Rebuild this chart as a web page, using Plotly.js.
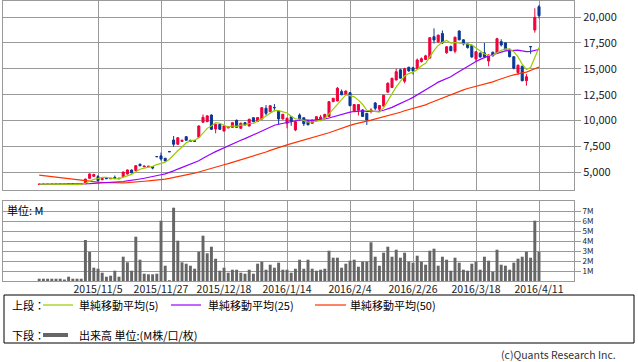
<!DOCTYPE html>
<html>
<head>
<meta charset="utf-8">
<script src="https://cdn.plot.ly/plotly-3.0.1.min.js"></script>
<style>html,body{margin:0;padding:0;background:#fff;}#chart{width:638px;height:362px;}</style>
</head>
<body>
<div id="chart"></div>
<script>
const dates = [
"2015/10/15","2015/10/16","2015/10/19","2015/10/20","2015/10/21","2015/10/22","2015/10/23","2015/10/26","2015/10/27","2015/10/28","2015/10/29",
"2015/10/30","2015/11/2","2015/11/4","2015/11/5","2015/11/6","2015/11/9","2015/11/10","2015/11/11","2015/11/12",
"2015/11/13","2015/11/16","2015/11/17","2015/11/18","2015/11/19","2015/11/20","2015/11/24","2015/11/25","2015/11/26","2015/11/27",
"2015/11/30","2015/12/1","2015/12/2","2015/12/3","2015/12/4","2015/12/7","2015/12/8","2015/12/9","2015/12/10","2015/12/11",
"2015/12/14","2015/12/15","2015/12/16","2015/12/17","2015/12/18","2015/12/21","2015/12/22","2015/12/24","2015/12/25","2015/12/28",
"2015/12/29","2015/12/30","2016/1/4","2016/1/5","2016/1/6","2016/1/7","2016/1/8","2016/1/12","2016/1/13","2016/1/14",
"2016/1/15","2016/1/18","2016/1/19","2016/1/20","2016/1/21","2016/1/22","2016/1/25","2016/1/26","2016/1/27","2016/1/28",
"2016/1/29","2016/2/1","2016/2/2","2016/2/3","2016/2/4","2016/2/5","2016/2/8","2016/2/9","2016/2/10","2016/2/12",
"2016/2/15","2016/2/16","2016/2/17","2016/2/18","2016/2/19","2016/2/22","2016/2/23","2016/2/24","2016/2/25","2016/2/26",
"2016/2/29","2016/3/1","2016/3/2","2016/3/3","2016/3/4","2016/3/7","2016/3/8","2016/3/9","2016/3/10","2016/3/11",
"2016/3/14","2016/3/15","2016/3/16","2016/3/17","2016/3/18","2016/3/22","2016/3/23","2016/3/24","2016/3/25","2016/3/28",
"2016/3/29","2016/3/30","2016/3/31","2016/4/1","2016/4/4","2016/4/5","2016/4/6","2016/4/7","2016/4/8","2016/4/11"];

const openP = [3840,3870,3860,3850,3860,3850,3860,3840,3890,3870,3830,
 3900,4430,4620,4600,4300,4440,4380,4520,4440,
 4580,4850,5230,5170,5790,5550,5560,5560,6530,6600,
 6370,7010,8130,7720,8000,8450,8100,8060,8390,9840,
 9900,10540,9190,9640,9000,9300,9350,10030,9260,9800,
 9480,10280,9920,10160,11190,10860,11260,10920,10160,9750,
 10380,9100,10540,10280,9990,9740,9990,10000,10280,10400,
 11830,11900,12800,12530,12700,10900,11000,11030,10700,10880,
 11700,11100,11400,12750,13200,13920,14900,13800,15150,15100,
 15000,15700,15900,16050,18100,17600,18400,16550,17150,16700,
 18650,17800,17400,17250,15950,16500,16550,15750,16600,16500,
 17620,17500,16880,16170,14650,15250,13850,17150,18750,20990];

const highP = [3880,3880,3870,3880,3870,3870,3870,3900,3900,3880,3850,
 4400,4900,4880,4750,4460,4480,4460,4700,4480,
 5080,5280,5280,5700,5850,5650,5620,5600,6550,6920,
 6400,7020,8520,8400,8150,8500,8150,8120,9550,10600,
 10520,10600,9700,9700,9520,9480,9850,10100,9800,9850,
 10180,10320,10350,11300,11500,11500,11600,11000,10650,10300,
 10450,9960,10700,10300,10050,10100,10420,10550,10650,11880,
 12200,13250,13000,12900,12750,11600,11600,11100,10750,11200,
 11800,11500,12500,13700,14150,15000,15000,15100,15200,15200,
 16000,16100,16350,18050,18900,18300,18700,17200,17250,18100,
 18700,17850,17450,17350,16700,16600,17500,16400,16650,18000,
 17850,17550,16950,16200,15400,15300,14500,17200,20840,21160];

const lowP = [3830,3840,3840,3840,3840,3840,3830,3830,3860,3820,3820,
 3880,4400,4560,4100,4250,4380,4370,4380,4380,
 4550,4800,4920,5150,5600,5500,5500,5300,6500,6140,
 6080,6980,7480,7650,7950,8050,7980,7980,8350,9800,
 9850,9100,8780,9100,8950,9250,9300,9300,9220,9550,
 9450,9850,9850,10100,10500,10800,10900,9610,10100,9260,
 9500,8980,10000,9480,9550,9700,9950,9950,10250,10380,
 11800,11850,12450,12500,11400,10850,10500,10350,9580,10700,
 11000,10850,11350,12700,13150,13900,14050,13600,14700,14450,
 14950,15600,15850,15950,17450,17500,17400,16450,16700,16500,
 17750,17250,16950,16050,15700,16050,16100,15250,16200,16450,
 17150,16800,16100,14950,14400,13800,13370,16450,18490,19870];

const closeP = [3870,3850,3850,3860,3850,3860,3840,3890,3870,3830,3840,
 4360,4850,4800,4220,4400,4400,4430,4420,4400,
 5040,5240,4960,5650,5650,5610,5600,5420,6520,6300,
 6110,7000,7720,8350,8100,8100,8000,8010,9480,10320,
 10460,9160,9640,9160,9480,9420,9800,9350,9750,9580,
 10130,9900,10300,11250,10700,11440,11250,10160,10610,10220,
 9900,9900,10160,9700,9600,10060,10380,10350,10610,11830,
 12150,13120,12500,12860,11440,11550,11550,10400,10060,11030,
 11190,11450,12450,13600,14080,14720,14100,15000,14800,14800,
 15850,15980,16250,18000,17780,18250,17500,17130,16750,18050,
 17800,17400,17050,16150,16650,16150,16150,16330,16250,17900,
 17300,16850,16170,15050,15350,13850,14240,17130,19970,20130];

const ma5 = [3860,3855,3855,3858,3856,3854,3852,3860,3862,3858,3854,
 3958,4150,4336,4414,4526,4534,4450,4374,4410,
 4538,4706,4812,5058,5308,5422,5494,5586,5760,5890,
 5990,6270,6730,7096,7456,7854,8054,8112,8338,8782,
 9254,9486,9812,9748,9580,9372,9500,9442,9560,9580,
 9722,9742,9932,10232,10456,10718,10988,10960,10832,10736,
 10428,10158,10158,9976,9852,9884,9980,10018,10200,10646,
 11064,11612,12042,12492,12414,12294,11980,11560,11000,10918,
 10846,10826,11236,11944,12554,13260,13790,14300,14540,14684,
 14910,15286,15536,16176,16772,17252,17556,17732,17482,17536,
 17446,17426,17410,17290,17010,16680,16430,16286,16306,16556,
 16786,16926,16894,16654,16144,15444,14926,15118,16102,17058];

const ma25 = [3851,3851,3851,3851,3851,3852,3851,3853,3854,3853,3852,
 3873,3913,3951,3966,3988,4010,4033,4056,4078,
 4125,4181,4225,4297,4369,4439,4509,4572,4678,4776,
 4866,4992,5146,5325,5496,5666,5812,5938,6125,6369,
 6612,6802,7010,7200,7403,7578,7761,7936,8100,8258,
 8438,8610,8806,8995,9171,9384,9554,9652,9742,9827,
 9899,9975,10061,10070,10041,10025,10074,10102,10160,10254,
 10363,10496,10622,10746,10821,10878,10944,10948,10900,10913,
 10903,10911,11003,11122,11277,11470,11638,11831,12035,12243,
 12475,12699,12935,13230,13468,13712,13888,14073,14228,14493,
 14743,14977,15243,15486,15711,15910,16098,16253,16359,16512,
 16615,16725,16772,16782,16804,16724,16654,16689,16768,16862];

const ma50 = [4750,4700,4640,4600,4520,4470,4420,4360,4300,4260,4230,
 4180,4140,4100,4070,4050,4030,4020,4010,4000,
 4000,4010,4030,4070,4110,4150,4180,4210,4265,4314,
 4359,4422,4499,4589,4674,4759,4842,4925,5038,5167,
 5299,5405,5521,5627,5740,5851,5970,6080,6198,6313,
 6438,6559,6688,6836,6973,7125,7273,7398,7533,7661,
 7782,7893,7999,8097,8205,8318,8438,8556,8680,8829,
 8971,9129,9280,9424,9540,9659,9778,9878,9949,10044,
 10146,10235,10330,10435,10555,10687,10809,10949,11055,11145,
 11253,11389,11521,11698,11864,12041,12195,12351,12491,12660,
 12813,12963,13098,13196,13315,13409,13507,13630,13743,13897,
 14045,14184,14304,14411,14526,14602,14679,14815,15002,15168];

// volume in millions
const volumeM = [0.23,0.23,0.23,0.23,0.23,0.23,0.15,0.43,0.23,0.23,0.23,
 4.1,2.9,1.33,1.23,0.83,0.43,0.53,1.03,0.43,
 2.43,1.87,1.03,4.43,2.13,0.73,0.67,0.67,0.73,6.03,
 1.53,0.08,7.33,4.03,1.87,1.73,1.53,1.23,2.93,4.53,
 2.77,3.43,2.23,1.03,1.33,0.83,1.13,1.13,0.83,0.73,
 1.13,0.73,1.73,1.93,1.13,1.63,1.33,1.83,1.13,1.13,
 0.83,1.23,2.13,1.23,2.13,1.23,1.03,1.13,1.23,3.03,
 2.33,2.33,1.33,1.73,2.03,2.13,1.43,1.93,1.93,3.87,
 2.43,1.53,2.83,3.43,2.43,3.13,2.33,2.83,1.93,1.83,
 2.53,1.93,1.63,3.03,3.23,1.53,2.43,2.13,1.03,2.33,
 1.83,1.13,1.03,1.73,1.93,1.13,2.43,2.03,0.93,3.13,
 1.63,1.53,1.13,1.83,2.23,2.43,2.93,2.33,6.03,2.93];

const xTickDates = ["2015/11/5","2015/11/27","2015/12/18","2016/1/14","2016/2/4","2016/2/26","2016/3/18","2016/4/11"];
const priceTicks = [5000,7500,10000,12500,15000,17500,20000];
const volTicks = [1,2,3,4,5,6,7];
const volTickText = ["1M","2M","3M","4M","5M","6M","7M"];
const legendLabels = ["単純移動平均(5)","単純移動平均(25)","単純移動平均(50)"];

// layout geometry (pixels -> paper)
const W = 638, H = 362, ML = 3, MR = 64, MT = 1, MB = 81;
const PW = W - ML - MR, PH = H - MT - MB;
const px = x => (x - ML) / PW;
const py = y => (H - MB - y) / PH;

const FONT = "Noto Sans CJK JP, Noto Sans, sans-serif";
const UP = "#f0003c", DOWN = "#0a3796", GRID = "#9a9a9a";

const traces = [
  {type:"candlestick", x:dates, open:openP, high:highP, low:lowP, close:closeP,
   xaxis:"x", yaxis:"y", whiskerwidth:0,
   increasing:{line:{color:UP,width:1}, fillcolor:UP},
   decreasing:{line:{color:DOWN,width:1}, fillcolor:DOWN},
   hoverinfo:"skip", showlegend:false},
  {type:"scatter", mode:"lines", x:dates, y:ma50, xaxis:"x", yaxis:"y",
   line:{color:"#ff3300", width:1.2}, hoverinfo:"skip", showlegend:false},
  {type:"scatter", mode:"lines", x:dates, y:ma25, xaxis:"x", yaxis:"y",
   line:{color:"#9900ff", width:1.2}, hoverinfo:"skip", showlegend:false},
  {type:"scatter", mode:"lines", x:dates, y:ma5, xaxis:"x", yaxis:"y",
   line:{color:"#99cc00", width:1.2}, hoverinfo:"skip", showlegend:false},
  {type:"bar", x:dates, y:volumeM, xaxis:"x", yaxis:"y2",
   marker:{color:"#666666", line:{width:0}}, hoverinfo:"skip", showlegend:false}
];

const tickFont = {family:FONT, size:11, color:"#222"};
const xTickFont = {family:FONT, size:10.5, color:"#222"};
const volTickFont = {family:FONT, size:8, color:"#222"};
const legFont = {family:FONT, size:11, color:"#000"};

const layout = {
  width:W, height:H,
  margin:{l:ML, r:MR, t:MT, b:MB, pad:0},
  paper_bgcolor:"#fff", plot_bgcolor:"#fff",
  showlegend:false, bargap:0.3,
  font:{family:FONT, size:11, color:"#222"},
  xaxis:{type:"category", range:[-8.62, 127.33], anchor:"y2",
    tickmode:"array", tickvals:xTickDates, ticktext:xTickDates,
    showgrid:true, gridcolor:GRID, gridwidth:1,
    showline:true, linecolor:GRID, linewidth:1, mirror:"all",
    ticks:"", tickfont:xTickFont, tickangle:0, ticklabelstandoff:-2,
    rangeslider:{visible:false}, fixedrange:true},
  yaxis:{domain:[py(190), py(1)], range:[3305, 21544], side:"right",
    tickmode:"array", tickvals:priceTicks, tickformat:",d",
    showgrid:true, gridcolor:GRID, gridwidth:1, zeroline:false,
    showline:true, linecolor:GRID, linewidth:1, mirror:true,
    ticks:"outside", ticklen:6, tickcolor:GRID, tickfont:tickFont, fixedrange:true},
  yaxis2:{domain:[0, py(201)], range:[0, 8], side:"right",
    tickmode:"array", tickvals:volTicks, ticktext:volTickText,
    showgrid:true, gridcolor:GRID, gridwidth:1, zeroline:false,
    showline:true, linecolor:GRID, linewidth:1, mirror:true,
    ticks:"outside", ticklen:6, tickcolor:GRID, tickfont:volTickFont, fixedrange:true},
  shapes:[
    {type:"rect", xref:"paper", yref:"paper", x0:px(4), x1:px(634), y0:py(295), y1:py(343),
     line:{color:"#000", width:1}, fillcolor:"rgba(0,0,0,0)"},
    {type:"line", xref:"paper", yref:"paper", x0:px(43), x1:px(73), y0:py(305), y1:py(305), line:{color:"#99cc00", width:1.2}},
    {type:"line", xref:"paper", yref:"paper", x0:px(171), x1:px(201), y0:py(305), y1:py(305), line:{color:"#9900ff", width:1.2}},
    {type:"line", xref:"paper", yref:"paper", x0:px(315), x1:px(346), y0:py(305), y1:py(305), line:{color:"#ff3300", width:1.2}},
    {type:"line", xref:"paper", yref:"paper", x0:px(43), x1:px(68), y0:py(335), y1:py(335), line:{color:"#666666", width:4}}
  ],
  annotations:[
    {text:"単位: M", xref:"paper", yref:"paper", x:px(5), y:py(210), xanchor:"left", yanchor:"middle", showarrow:false, font:legFont},
    {text:"上段：", xref:"paper", yref:"paper", x:px(10), y:py(305), xanchor:"left", yanchor:"middle", showarrow:false, font:legFont},
    {text:legendLabels[0], xref:"paper", yref:"paper", x:px(77), y:py(305), xanchor:"left", yanchor:"middle", showarrow:false, font:legFont},
    {text:legendLabels[1], xref:"paper", yref:"paper", x:px(206), y:py(305), xanchor:"left", yanchor:"middle", showarrow:false, font:legFont},
    {text:legendLabels[2], xref:"paper", yref:"paper", x:px(348), y:py(305), xanchor:"left", yanchor:"middle", showarrow:false, font:legFont},
    {text:"下段：", xref:"paper", yref:"paper", x:px(10), y:py(335), xanchor:"left", yanchor:"middle", showarrow:false, font:legFont},
    {text:"出来高 単位:(M株/口/枚)", xref:"paper", yref:"paper", x:px(77), y:py(335), xanchor:"left", yanchor:"middle", showarrow:false, font:legFont},
    {text:"(c)Quants Research Inc.", xref:"paper", yref:"paper", x:px(618), y:py(354), xanchor:"right", yanchor:"middle", showarrow:false, font:{family:FONT, size:10.5, color:"#333"}}
  ]
};

Plotly.newPlot("chart", traces, layout, {staticPlot:true, displayModeBar:false});
</script>
</body>
</html>
